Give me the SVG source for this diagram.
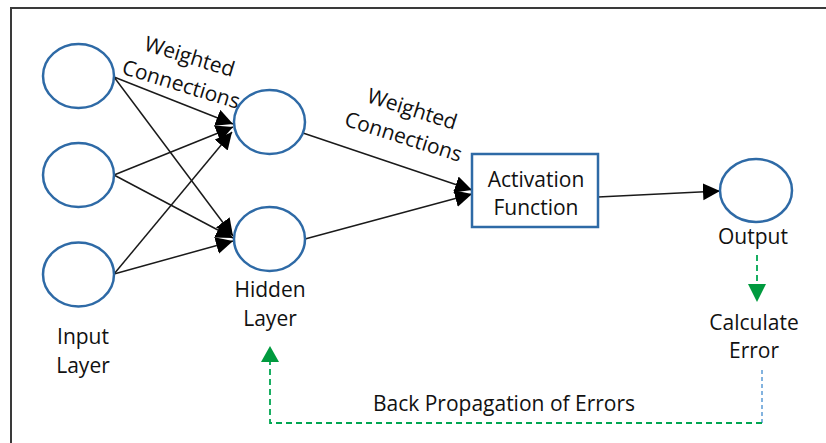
<svg xmlns="http://www.w3.org/2000/svg" width="826" height="443" viewBox="0 0 826 443">
<style>
.n{fill:#fff;stroke:#2e6aa6;stroke-width:2.5}
.t{font-family:"Open Sans","Noto Sans",sans-serif;font-size:21px;fill:#111;text-anchor:middle}
.c{stroke:#1a1a1a;stroke-width:1.5;fill:none;marker-end:url(#ah)}
.g{stroke:#00a651;stroke-width:1.8;fill:none;stroke-dasharray:6 4}
.b{stroke:#5b9bd5;stroke-width:1.5;fill:none;stroke-dasharray:4 3}
</style>
<defs>
<marker id="ah" markerUnits="userSpaceOnUse" markerWidth="18" markerHeight="18" refX="17" refY="8.5" orient="auto">
<path d="M0,0 L17,8.5 L0,17 z" fill="#000"/>
</marker>
</defs>
<rect width="826" height="443" fill="#fff"/>
<path d="M11,443 V8 H826" fill="none" stroke="#3a3a3a" stroke-width="2"/>
<g id="connectors">
<line class="c" x1="114" y1="77" x2="233" y2="124"/>
<line class="c" x1="114" y1="175" x2="233" y2="127"/>
<line class="c" x1="114" y1="274" x2="232" y2="132"/>
<line class="c" x1="114" y1="77" x2="233" y2="236"/>
<line class="c" x1="114" y1="175" x2="233" y2="238"/>
<line class="c" x1="114" y1="274" x2="233" y2="241"/>
<line class="c" x1="303" y1="133" x2="472" y2="190"/>
<line class="c" x1="305" y1="239" x2="472" y2="194"/>
<line class="c" x1="598" y1="197" x2="720" y2="191"/>
<path class="g" d="M757,255 V284"/>
<path d="M748,284 L766,284 L757,302 z" fill="#009a3e"/>
<path class="b" d="M762,370 V423"/>
<path class="g" d="M762,423 H270 V362"/>
<path d="M261,362 L279,362 L270,346 z" fill="#009a3e"/>
</g>
<g id="input1"><ellipse class="n" cx="78.5" cy="76" rx="35.5" ry="32"/></g>
<g id="input2"><ellipse class="n" cx="78.5" cy="175" rx="35.5" ry="32"/></g>
<g id="input3"><ellipse class="n" cx="78.5" cy="274.5" rx="35.5" ry="32"/></g>
<g id="input-label"><text class="t" x="83" y="344">Input</text><text class="t" x="83" y="373">Layer</text></g>
<g id="hidden1"><ellipse class="n" cx="269.5" cy="122" rx="35.5" ry="32"/></g>
<g id="hidden2"><ellipse class="n" cx="269.5" cy="239" rx="35.5" ry="32"/></g>
<g id="hidden-label"><text class="t" x="270" y="297">Hidden</text><text class="t" x="270" y="326">Layer</text></g>
<g id="weights1" transform="translate(187.5,63.5) rotate(17)"><text class="t" x="0" y="0">Weighted</text><text class="t" x="0" y="29">Connections</text></g>
<g id="weights2" transform="translate(410,116) rotate(17.5)"><text class="t" x="0" y="0">Weighted</text><text class="t" x="0" y="29">Connections</text></g>
<g id="activation"><rect class="n" x="472" y="154" width="126" height="73"/><text class="t" x="536" y="187">Activation</text><text class="t" x="536" y="215">Function</text></g>
<g id="output"><ellipse class="n" cx="756" cy="190.5" rx="36" ry="31.5"/><text class="t" x="753" y="244">Output</text></g>
<g id="calc-error"><text class="t" x="754" y="330">Calculate</text><text class="t" x="754" y="358">Error</text></g>
<g id="backprop-label"><text class="t" x="504" y="411">Back Propagation of Errors</text></g>
</svg>
